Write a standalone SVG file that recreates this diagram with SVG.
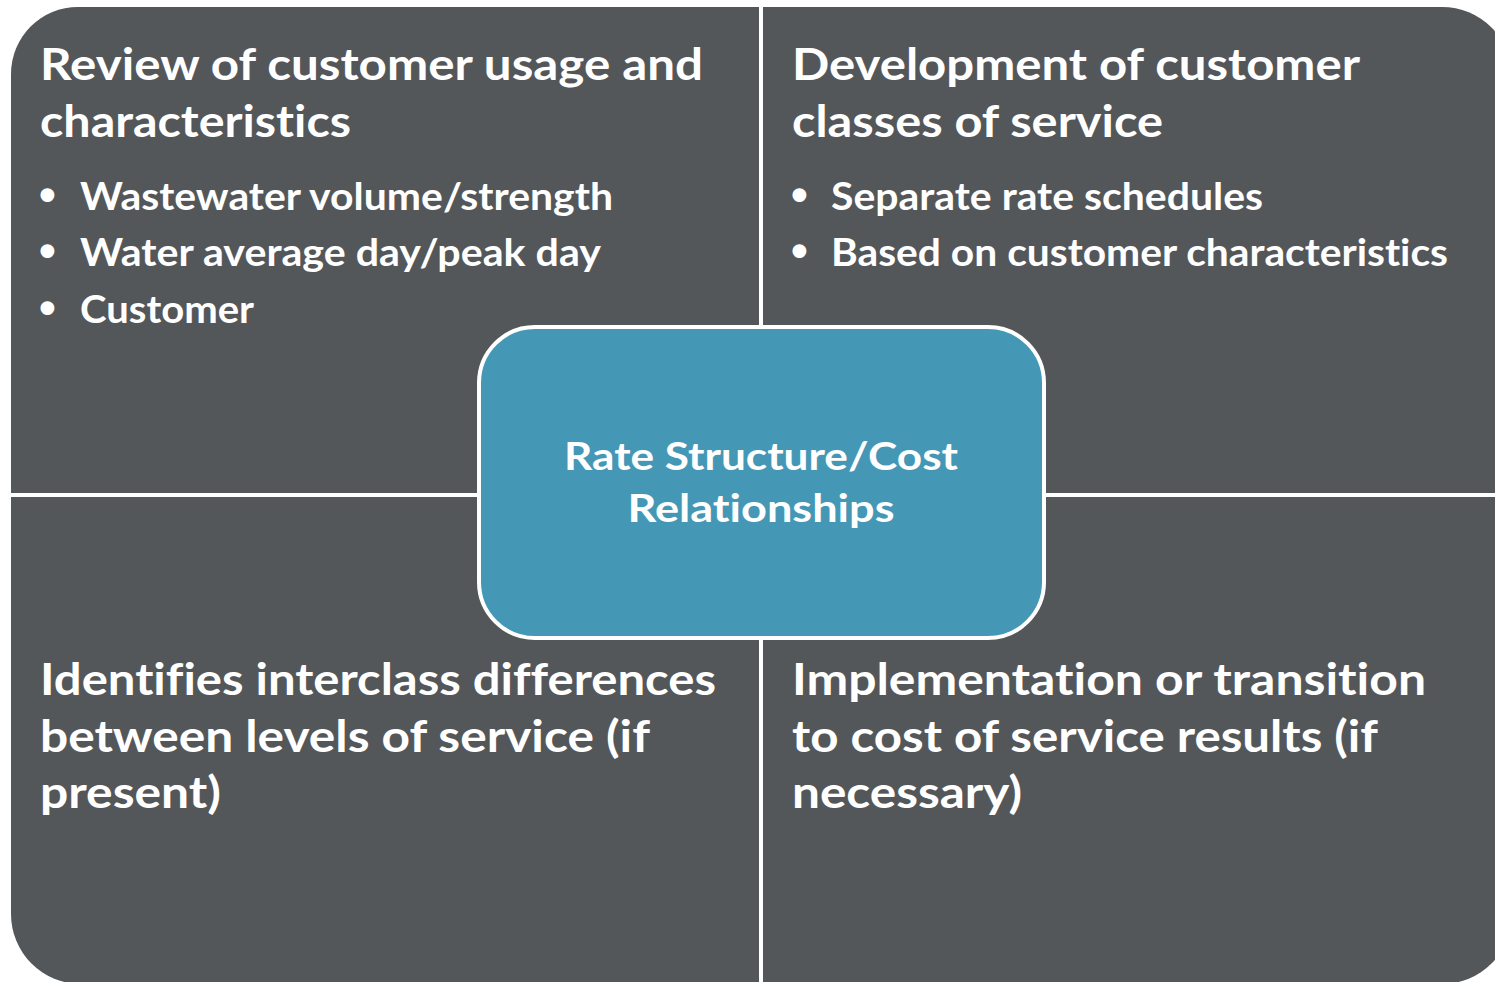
<svg xmlns="http://www.w3.org/2000/svg" width="1495" height="982" viewBox="0 0 1495 982">
  <style>
    text { font-variant-ligatures: none; font-feature-settings: "liga" 0, "clig" 0, "dlig" 0; }
    .quad { fill: #54575A; }
    .hub { fill: #4498B6; stroke: #FFFFFF; stroke-width: 4; }
    .title { font-family: "Lato", "Open Sans", "Liberation Sans", sans-serif; font-weight: 700; font-size: 44px; fill: #FFFFFF; }
    .item { font-family: "Lato", "Open Sans", "Liberation Sans", sans-serif; font-weight: 700; font-size: 38px; fill: #FFFFFF; }
    .dot { font-family: "Liberation Sans", sans-serif; font-weight: 700; font-size: 48px; fill: #FFFFFF; }
    .hubtext { font-family: "Lato", "Open Sans", "Liberation Sans", sans-serif; font-weight: 700; font-size: 39px; fill: #FFFFFF; text-anchor: middle; }
  </style>
  <rect width="1495" height="982" fill="#FFFFFF"/>

  <!-- separator lines between quadrants (white gaps) -->
  <g id="connectors">
    <line x1="761" y1="0" x2="761" y2="982" stroke="#FFFFFF" stroke-width="4"/>
    <line x1="0" y1="495" x2="1495" y2="495" stroke="#FFFFFF" stroke-width="4"/>
  </g>

  <!-- top-left quadrant -->
  <g id="q-review">
    <path class="quad" d="M11,493 L11,74 A67,67 0 0 1 78,7 L759,7 L759,493 Z"/>
    <text class="title" x="40" y="80" textLength="663" lengthAdjust="spacingAndGlyphs">Review of customer usage and</text>
    <text class="title" x="40" y="137" textLength="311" lengthAdjust="spacingAndGlyphs">characteristics</text>
    <text class="dot" x="39" y="211">•</text>
    <text class="item" x="80" y="210" textLength="533" lengthAdjust="spacingAndGlyphs">Wastewater volume/strength</text>
    <text class="dot" x="39" y="267">•</text>
    <text class="item" x="80" y="266" textLength="521" lengthAdjust="spacingAndGlyphs">Water average day/peak day</text>
    <text class="dot" x="39" y="324">•</text>
    <text class="item" x="80" y="323" textLength="174" lengthAdjust="spacingAndGlyphs">Customer</text>
  </g>

  <!-- top-right quadrant -->
  <g id="q-classes">
    <path class="quad" d="M763,7 L1442,7 A70,70 0 0 1 1512,77 L1512,493 L763,493 Z"/>
    <text class="title" x="792" y="80" textLength="568" lengthAdjust="spacingAndGlyphs">Development of customer</text>
    <text class="title" x="792" y="137" textLength="371" lengthAdjust="spacingAndGlyphs">classes of service</text>
    <text class="dot" x="791" y="211">•</text>
    <text class="item" x="831" y="210" textLength="432" lengthAdjust="spacingAndGlyphs">Separate rate schedules</text>
    <text class="dot" x="791" y="267">•</text>
    <text class="item" x="831" y="266" textLength="617" lengthAdjust="spacingAndGlyphs">Based on customer characteristics</text>
  </g>

  <!-- bottom-left quadrant -->
  <g id="q-interclass">
    <path class="quad" d="M11,497 L759,497 L759,984 L81,984 A70,70 0 0 1 11,914 Z"/>
    <text class="title" x="40" y="695" textLength="676" lengthAdjust="spacingAndGlyphs">Identifies interclass differences</text>
    <text class="title" x="40" y="752" textLength="610" lengthAdjust="spacingAndGlyphs">between levels of service (if</text>
    <text class="title" x="40" y="808" textLength="181" lengthAdjust="spacingAndGlyphs">present)</text>
  </g>

  <!-- bottom-right quadrant -->
  <g id="q-implementation">
    <path class="quad" d="M763,497 L1512,497 L1512,914 A70,70 0 0 1 1442,984 L763,984 Z"/>
    <text class="title" x="792" y="695" textLength="634" lengthAdjust="spacingAndGlyphs">Implementation or transition</text>
    <text class="title" x="792" y="752" textLength="586" lengthAdjust="spacingAndGlyphs">to cost of service results (if</text>
    <text class="title" x="792" y="808" textLength="230" lengthAdjust="spacingAndGlyphs">necessary)</text>
  </g>

  <!-- central hub -->
  <g id="hub">
    <rect class="hub" x="479" y="327" width="565" height="311" rx="56" ry="56"/>
    <text class="hubtext" x="761" y="470" textLength="394" lengthAdjust="spacingAndGlyphs">Rate Structure/Cost</text>
    <text class="hubtext" x="761" y="522" textLength="267" lengthAdjust="spacingAndGlyphs">Relationships</text>
  </g>
</svg>
